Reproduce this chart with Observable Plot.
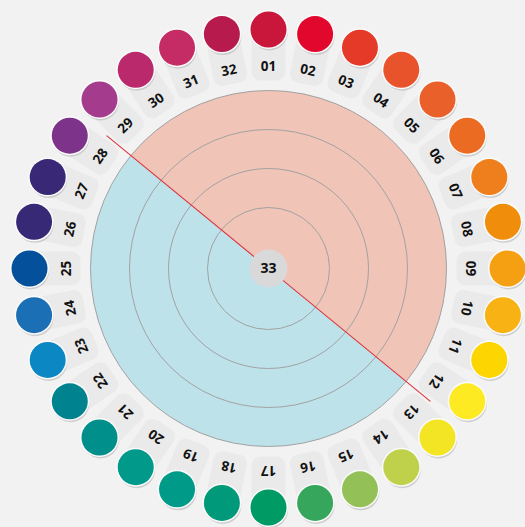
<!DOCTYPE html>
<html>
<head>
<meta charset="utf-8">
<script src="https://cdn.jsdelivr.net/npm/d3@7"></script>
<script src="https://cdn.jsdelivr.net/npm/@observablehq/plot@0.6"></script>
<style>
  html, body { margin: 0; padding: 0; background: #f2f2f2; }
  #chart svg { display: block; }
</style>
</head>
<body>
<div id="chart"></div>
<script>
// ---- data ----
const labels = ["01","02","03","04","05","06","07","08","09","10","11","12","13","14","15","16",
                "17","18","19","20","21","22","23","24","25","26","27","28","29","30","31","32"];
const dotColors = ["#c8173a","#e2072c","#e53a27","#e8532c","#ea602b","#ec6b23","#ef7f1d","#f08e0b",
                   "#f4a012","#f8b214","#fdd500","#fdea22","#f4e524","#bfd14b","#94c157","#35a65b",
                   "#009a64","#009a7b","#009a88","#00998a","#008f8b","#00838f","#0b88c4","#1b6fb5",
                   "#05509b","#372976","#382876","#7d3389","#a43b8c","#b9296c","#c52b64","#b71a4c"];
const ringRadii = [61, 100, 139, 178];
const halfColors = {salmon: "#f0c4b6", blue: "#bde2ea"};
const splitAngle = 309.375; // degrees clockwise from top
const centerLabel = "33";

// ---- layout ----
const step = 360 / labels.length;
const items = labels.map((label, i) => ({label, color: dotColors[i], angle: i * step}));
const rad = a => a * Math.PI / 180;
const px = (R) => d => R * Math.sin(rad(d.angle ?? d));
const py = (R) => d => R * Math.cos(rad(d.angle ?? d));

const R_DOT = 239, R_LABEL = 202, R_TAB = 216, R_LINE = 209;

const tabSymbol = {
  draw(ctx) {
    const w = 34, h = 56, r = 9, x0 = -w/2, y0 = -h/2, x1 = w/2, y1 = h/2;
    ctx.moveTo(x0 + r, y0);
    ctx.arcTo(x1, y0, x1, y1, r);
    ctx.arcTo(x1, y1, x0, y1, r);
    ctx.arcTo(x0, y1, x0, y0, r);
    ctx.arcTo(x0, y0, x1, y0, r);
    ctx.closePath();
  }
};
const halfDisk = {
  draw(ctx, size) {
    const r = Math.sqrt(size / Math.PI);
    ctx.moveTo(r, 0);
    ctx.arc(0, 0, r, 0, Math.PI);
    ctx.closePath();
  }
};

const chart = Plot.plot({
  width: 525,
  height: 527,
  margin: 0,
  x: {domain: [-268, 257], axis: null},
  y: {domain: [-259, 268], axis: null},
  r: {type: "identity"},
  style: {background: "#f2f2f2", overflow: "visible"},
  marks: [
    Plot.dot(items, {x: px(R_TAB), y: py(R_TAB), r: 10, symbol: tabSymbol, rotate: "angle", fill: "#eaeaea"}),
    Plot.dot([0], {x: 0, y: 0, r: 178, fill: halfColors.blue}),
    Plot.dot([splitAngle], {x: 0, y: 0, r: 178, symbol: halfDisk, rotate: d => d - 90, fill: halfColors.salmon}),
    Plot.dot(ringRadii, {x: 0, y: 0, r: d => d, stroke: "#a2a2a2", strokeWidth: 1, fill: "none"}),
    Plot.line([splitAngle, splitAngle + 180], {x: px(R_LINE), y: py(R_LINE), stroke: "#e0323b", strokeWidth: 1.1}),
    Plot.dot([0], {x: 0, y: 0, r: 19, fill: "#d9d9d9"}),
    Plot.text([centerLabel], {x: 0, y: 0, text: d => d, fontSize: 14, fontWeight: "bold", fill: "#111", fontFamily: "Open Sans, sans-serif"}),
    Plot.dot(items, {x: px(R_DOT), y: py(R_DOT), r: 18.5, dx: 1, dy: 2.5, fill: "#c4c4c4", fillOpacity: 0.8}),
    Plot.dot(items, {x: px(R_DOT), y: py(R_DOT), r: 19.5, fill: "#fbfbfb"}),
    Plot.dot(items, {x: px(R_DOT), y: py(R_DOT), r: 18, fill: "color"}),
    Plot.text(items, {x: px(R_LABEL), y: py(R_LABEL), text: "label", rotate: "angle", fontSize: 13.5, fontWeight: "bold", fill: "#111", fontFamily: "Open Sans, sans-serif"})
  ]
});
document.getElementById("chart").append(chart);
</script>
</body>
</html>
